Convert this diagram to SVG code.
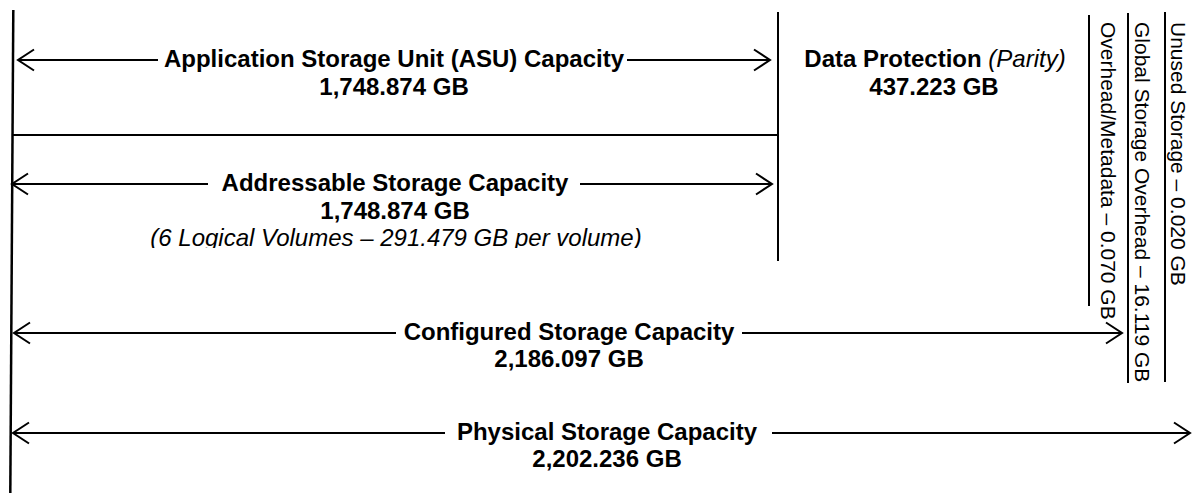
<svg xmlns="http://www.w3.org/2000/svg" width="1193" height="496" viewBox="0 0 1193 496">
<style>
.ln{stroke:#000;stroke-width:2;fill:none}
.vl{stroke:#000;stroke-width:2.5;fill:none}
.b{font-family:"Liberation Sans",Arial,sans-serif;font-weight:bold;font-size:24px;fill:#000;text-anchor:middle}
.i{font-family:"Liberation Sans",Arial,sans-serif;font-style:italic;font-weight:normal}
.v{font-family:"Liberation Sans",Arial,sans-serif;font-size:21px;fill:#000}
</style>
<defs>
<marker id="ah" viewBox="0 0 20 24" refX="18" refY="12" markerWidth="20" markerHeight="24" markerUnits="userSpaceOnUse" orient="auto-start-reverse">
<path d="M2,1.5 L18,12 L2,22.5" fill="none" stroke="#000" stroke-width="2"/>
</marker>
<clipPath id="clipAdd"><rect x="0" y="0" width="778" height="248"/></clipPath>
</defs>
<g id="frame">
<line class="vl" x1="13.3" y1="10" x2="10.3" y2="493"/>
<line class="ln" x1="12" y1="135" x2="778" y2="135"/>
<line class="ln" x1="778" y1="12" x2="778" y2="261"/>
<line class="ln" x1="1089" y1="15" x2="1089" y2="306"/>
<line class="ln" x1="1128" y1="13" x2="1128" y2="383"/>
<line class="ln" x1="1165" y1="12" x2="1165" y2="382"/>
</g>
<g id="connectors">
<line class="ln" x1="18" y1="60" x2="158" y2="60" marker-start="url(#ah)"/>
<line class="ln" x1="627" y1="60" x2="770" y2="60" marker-end="url(#ah)"/>
<line class="ln" x1="12" y1="184" x2="208" y2="184" marker-start="url(#ah)"/>
<line class="ln" x1="580" y1="184" x2="772" y2="184" marker-end="url(#ah)"/>
<line class="ln" x1="14" y1="333" x2="396" y2="333" marker-start="url(#ah)"/>
<line class="ln" x1="742" y1="333" x2="1122" y2="333" marker-end="url(#ah)"/>
<line class="ln" x1="13" y1="433" x2="445" y2="433" marker-start="url(#ah)"/>
<line class="ln" x1="772" y1="433" x2="1190" y2="433" marker-end="url(#ah)"/>
</g>
<g id="asu">
<text class="b" x="394" y="67">Application Storage Unit (ASU) Capacity</text>
<text class="b" x="394" y="95">1,748.874 GB</text>
</g>
<g id="addressable" clip-path="url(#clipAdd)">
<text class="b" x="395" y="191">Addressable Storage Capacity</text>
<text class="b" x="395" y="219">1,748.874 GB</text>
<text class="b i" x="396" y="246">(6 Logical Volumes – 291.479 GB per volume)</text>
</g>
<g id="parity">
<text class="b" x="935" y="67">Data Protection <tspan class="i">(Parity)</tspan></text>
<text class="b" x="934" y="95">437.223 GB</text>
</g>
<g id="configured">
<text class="b" x="569" y="340">Configured Storage Capacity</text>
<text class="b" x="569" y="367">2,186.097 GB</text>
</g>
<g id="physical">
<text class="b" x="607" y="440">Physical Storage Capacity</text>
<text class="b" x="607" y="467">2,202.236 GB</text>
</g>
<g id="overhead-metadata">
<text class="v" transform="translate(1101,22) rotate(90)">Overhead/Metadata – 0.070 GB</text>
</g>
<g id="global-overhead">
<text class="v" transform="translate(1135,22) rotate(90)">Global Storage Overhead – 16.119 GB</text>
</g>
<g id="unused">
<text class="v" transform="translate(1171,22) rotate(90)">Unused Storage – 0.020 GB</text>
</g>
</svg>
